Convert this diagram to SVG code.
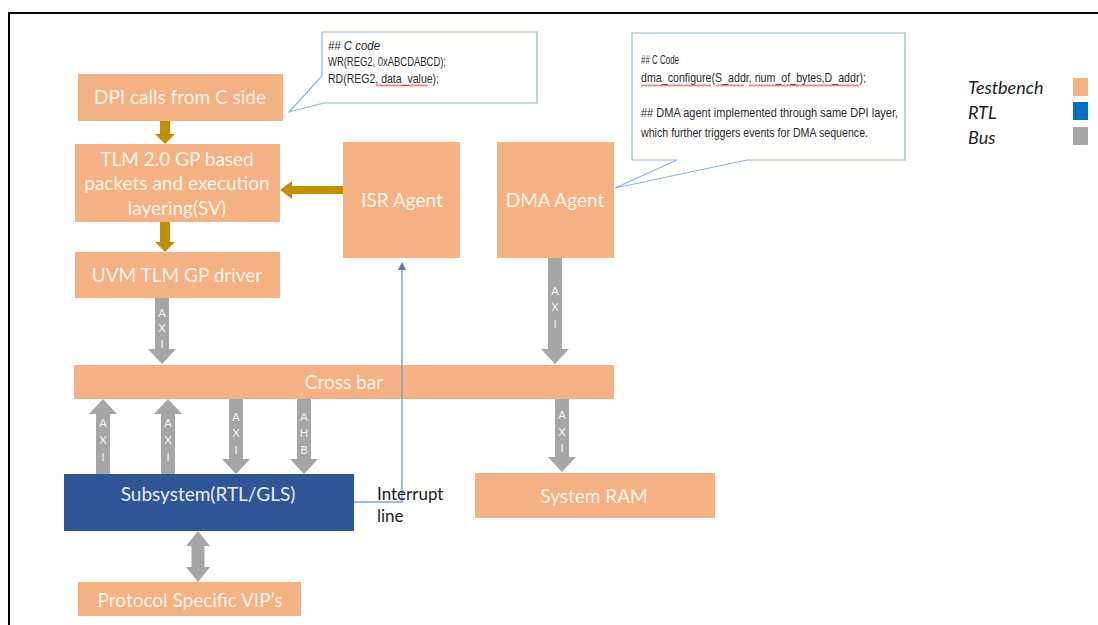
<svg xmlns="http://www.w3.org/2000/svg" width="1098" height="625" viewBox="0 0 1098 625">
  <defs>
    <style>
      .tb { fill: #F4B183; }
      .rtl { fill: #2F5597; }
      .bus { fill: #A6A6A6; }
      .gold { fill: #BF9000; }
      .lbl { font-family: Lato, "Open Sans", "Liberation Sans", sans-serif; font-size: 19px; fill: #FFF4EC; text-anchor: middle; }
      .lbl-rtl { fill: #E8EEF8; }
      .busch { font-family: Lato, "Liberation Sans", sans-serif; font-size: 11px; fill: #F4F4F4; text-anchor: middle; }
      .note { fill: #FFFFFF; stroke: #8FB3E0; stroke-width: 1.2; }
      .code { font-family: "Liberation Sans", "DejaVu Sans", sans-serif; font-size: 13px; fill: #2A2A2A; }
      .legend { font-family: Lato, "Liberation Sans", sans-serif; font-style: italic; font-size: 18px; fill: #222222; }
      .plain { font-family: Lato, "Liberation Sans", sans-serif; font-size: 17px; fill: #222222; }
      .irq { fill: none; stroke: #7FA3DA; stroke-width: 1.5; }
    </style>
    <pattern id="squiggle" width="4" height="3" patternUnits="userSpaceOnUse">
      <path d="M0,2.5 L1,0.5 L2,2.5 L3,0.5 L4,2.5" fill="none" stroke="#E05050" stroke-width="0.7"/>
    </pattern>
    <marker id="irqHead" markerWidth="8" markerHeight="8" refX="4" refY="4" orient="auto" markerUnits="userSpaceOnUse">
      <path d="M0,0 L8,4 L0,8 Z" fill="#4F7FC8"/>
    </marker>
  </defs>

  <!-- outer frame -->
  <path d="M1098,13 H9 V625" fill="none" stroke="#000000" stroke-width="2"/>

  <!-- nodes -->
  <g id="dpi-calls">
    <rect class="tb" x="78" y="74" width="205" height="47"/>
    <text class="lbl" x="180" y="104">DPI calls from C side</text>
  </g>
  <g id="tlm-layer">
    <rect class="tb" x="75" y="144" width="205" height="78"/>
    <text class="lbl" x="177" y="166">TLM 2.0 GP based</text>
    <text class="lbl" x="177" y="190">packets and execution</text>
    <text class="lbl" x="177" y="215">layering(SV)</text>
  </g>
  <g id="uvm-driver">
    <rect class="tb" x="75" y="252" width="205" height="46"/>
    <text class="lbl" x="177" y="282">UVM TLM GP driver</text>
  </g>
  <g id="isr-agent">
    <rect class="tb" x="343" y="142" width="117" height="116"/>
    <text class="lbl" x="402" y="207">ISR Agent</text>
  </g>
  <g id="dma-agent">
    <rect class="tb" x="497" y="142" width="117" height="116"/>
    <text class="lbl" x="555" y="207">DMA Agent</text>
  </g>
  <g id="cross-bar">
    <rect class="tb" x="74" y="365" width="540" height="34"/>
    <text class="lbl" x="344" y="389">Cross bar</text>
  </g>
  <g id="subsystem">
    <rect class="rtl" x="64" y="474" width="290" height="57"/>
    <text class="lbl lbl-rtl" x="208" y="501">Subsystem(RTL/GLS)</text>
  </g>
  <g id="system-ram">
    <rect class="tb" x="475" y="473" width="240" height="45"/>
    <text class="lbl" x="594" y="503">System RAM</text>
  </g>
  <g id="protocol-vip">
    <rect class="tb" x="78" y="582" width="223" height="34"/>
    <text class="lbl" x="190" y="607">Protocol Specific VIP’s</text>
  </g>

  <!-- connectors -->
  <g id="connectors">
    <!-- control flow (gold) -->
    <path class="gold" d="M160,121 H170 V134 H175 L165,144 L155,134 H160 Z"/>
    <path class="gold" d="M160,222 H170 V242 H175 L165,252 L155,242 H160 Z"/>
    <path class="gold" d="M343,186 V194 H292 V199 L280,190 L292,181 V186 Z"/>

    <!-- bus links (gray) -->
    <path class="bus" d="M155,298 H169 V349 H176 L162,364 L148,349 H155 Z"/>
    <text class="busch" x="162" y="317">A</text>
    <text class="busch" x="162" y="332">X</text>
    <text class="busch" x="162" y="348">I</text>

    <path class="bus" d="M548,258 H562 V349 H569 L555,364 L541,349 H548 Z"/>
    <text class="busch" x="555" y="295">A</text>
    <text class="busch" x="555" y="311">X</text>
    <text class="busch" x="555" y="328">I</text>

    <path class="bus" d="M555,399 H569 V457 H576 L562,472 L548,457 H555 Z"/>
    <text class="busch" x="562" y="419">A</text>
    <text class="busch" x="562" y="436">X</text>
    <text class="busch" x="562" y="452">I</text>

    <path class="bus" d="M96,474 H110 V414 H117 L103,399 L89,414 H96 Z"/>
    <text class="busch" x="103" y="427">A</text>
    <text class="busch" x="103" y="444">X</text>
    <text class="busch" x="103" y="461">I</text>

    <path class="bus" d="M161,474 H175 V414 H182 L168,399 L154,414 H161 Z"/>
    <text class="busch" x="168" y="427">A</text>
    <text class="busch" x="168" y="444">X</text>
    <text class="busch" x="168" y="461">I</text>

    <path class="bus" d="M229,399 H243 V459 H250 L236,474 L222,459 H229 Z"/>
    <text class="busch" x="236" y="421">A</text>
    <text class="busch" x="236" y="437">X</text>
    <text class="busch" x="236" y="454">I</text>

    <path class="bus" d="M297,399 H311 V459 H318 L304,474 L290,459 H297 Z"/>
    <text class="busch" x="304" y="421">A</text>
    <text class="busch" x="304" y="437">H</text>
    <text class="busch" x="304" y="454">B</text>

    <path class="bus" d="M198,531 L210,546 H204.5 V567 H210 L198,582 L186,567 H191.5 V546 H186 Z"/>

    <!-- interrupt line -->
    <path class="irq" d="M354,502 H402 V266" marker-end="url(#irqHead)"/>
  </g>
  <text class="plain" x="377" y="500">Interrupt</text>
  <text class="plain" x="377" y="522">line</text>

  <!-- code notes -->
  <g id="note-c-code">
    <path class="note" d="M322,32 H537 V103 H324 L289,112 L322,76 Z"/>
    <text class="code" x="328" y="50" font-style="italic" textLength="52" lengthAdjust="spacingAndGlyphs">## C code</text>
    <text class="code" x="328" y="66" textLength="118" lengthAdjust="spacingAndGlyphs">WR(REG2, 0xABCDABCD);</text>
    <text class="code" x="328" y="83" textLength="111" lengthAdjust="spacingAndGlyphs">RD(REG2, data_value);</text>
    <rect x="376" y="84" width="52" height="3" fill="url(#squiggle)"/>
  </g>
  <g id="note-dma">
    <path class="note" d="M632,33 H905 V160 H747 L615,188 L677,160 H632 Z"/>
    <text class="code" x="641" y="64" textLength="38" lengthAdjust="spacingAndGlyphs">## C Code</text>
    <text class="code" x="641" y="82" textLength="225" lengthAdjust="spacingAndGlyphs">dma_configure(S_addr, num_of_bytes,D_addr);</text>
    <rect x="641" y="84" width="70" height="3" fill="url(#squiggle)"/>
    <rect x="716" y="84" width="28" height="3" fill="url(#squiggle)"/>
    <rect x="749" y="84" width="110" height="3" fill="url(#squiggle)"/>
    <text class="code" x="641" y="117" textLength="257" lengthAdjust="spacingAndGlyphs">## DMA agent implemented through same DPI layer,</text>
    <text class="code" x="641" y="137" textLength="227" lengthAdjust="spacingAndGlyphs">which further triggers events for DMA sequence.</text>
  </g>

  <!-- legend -->
  <g id="legend">
    <text class="legend" x="968" y="94">Testbench</text>
    <text class="legend" x="968" y="119">RTL</text>
    <text class="legend" x="968" y="144">Bus</text>
    <rect x="1073" y="78" width="15" height="18" fill="#F4B183"/>
    <rect x="1073" y="102" width="15" height="18" fill="#0070C0"/>
    <rect x="1073" y="127" width="15" height="18" fill="#A6A6A6"/>
  </g>
</svg>
